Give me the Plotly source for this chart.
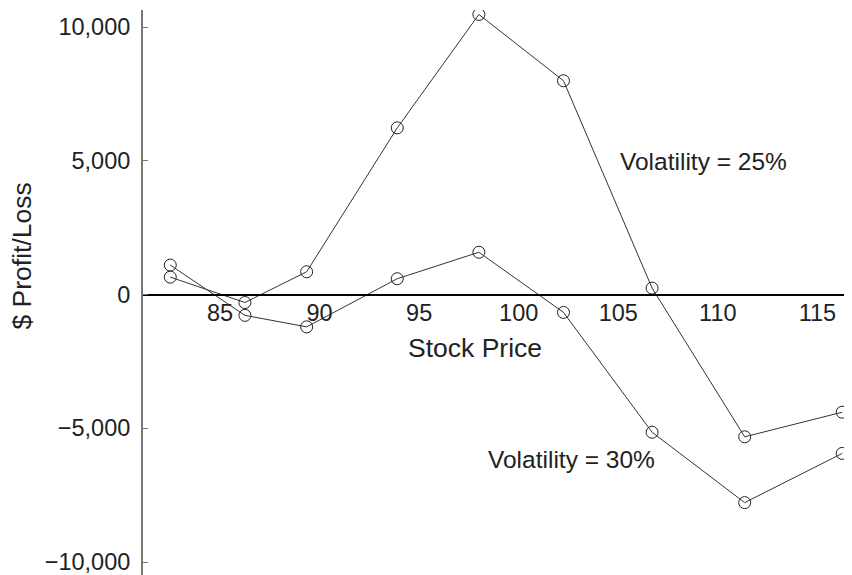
import plotly.graph_objects as go

# Data
stock_price = [82.5, 86.25, 89.35, 93.9, 98.0, 102.25, 106.7, 111.35, 116.25]
pl_vol25 = [650, -300, 850, 6230, 10470, 7990, 240, -5320, -4400]
pl_vol30 = [1100, -780, -1210, 590, 1580, -670, -5150, -7780, -5940]

x_ticks = [85, 90, 95, 100, 105, 110, 115]
y_ticks = [-10000, -5000, 0, 5000, 10000]

FONT = "Liberation Sans, Arial, Helvetica, sans-serif"
INK = "#222222"
LINE = "#333333"

X_RANGE = [81.13, 116.74]
Y_RANGE = [-10486, 10636]
zero_pos = (0 - Y_RANGE[0]) / (Y_RANGE[1] - Y_RANGE[0])

fig = go.Figure()
for yvals in (pl_vol25, pl_vol30):
    fig.add_trace(go.Scatter(
        x=stock_price, y=yvals, mode="lines+markers",
        line=dict(color=LINE, width=1),
        marker=dict(symbol="circle-open", size=12, color=INK, line=dict(width=1, color=INK)),
        showlegend=False, hoverinfo="skip",
    ))

tick_common = dict(range=X_RANGE, tickvals=x_ticks, showgrid=False, zeroline=False,
                   overlaying="x", anchor="free", position=zero_pos,
                   showline=False, showticklabels=False,
                   ticklen=5, tickwidth=1, tickcolor="black")

# page body has an 8px default margin; size the figure so the plot area lands where the reference has it
fig.update_layout(
    width=844, height=567,
    margin=dict(l=135, r=0, t=2, b=0),
    paper_bgcolor="white", plot_bgcolor="white",
    font=dict(family=FONT, color=INK),
    xaxis=dict(
        range=X_RANGE, tickvals=x_ticks, showgrid=False, zeroline=False,
        anchor="free", position=zero_pos,
        showline=True, linecolor="black", linewidth=2,
        ticks="", ticklabelstandoff=-3,
        tickfont=dict(size=23.5, family=FONT, color=INK),
    ),
    xaxis2=dict(ticks="inside", **tick_common),
    xaxis3=dict(ticks="outside", **tick_common),
    yaxis=dict(
        range=Y_RANGE, tickvals=y_ticks, tickformat=",", showgrid=False, zeroline=False,
        showline=True, linecolor="#777777", linewidth=2,
        ticks="inside", ticklen=5, tickwidth=1, tickcolor="#777777",
        ticklabelstandoff=6, ticklabeloverflow="allow",
        tickfont=dict(size=23.5, family=FONT, color=INK),
    ),
    annotations=[
        dict(text="Stock Price", xref="paper", yref="paper", x=0.4683, y=0.4009,
             xanchor="center", yanchor="middle", showarrow=False,
             font=dict(size=26.5, family=FONT, color=INK)),
        dict(text="$ Profit/Loss", xref="paper", yref="paper", x=-0.172, y=0.5637,
             xanchor="center", yanchor="middle", showarrow=False, textangle=-90,
             font=dict(size=26.5, family=FONT, color=INK)),
        dict(text="Volatility = 25%", xref="x", yref="y", x=109.28, y=4964,
             xanchor="center", yanchor="middle", showarrow=False,
             font=dict(size=24.5, family=FONT, color=INK)),
        dict(text="Volatility = 30%", xref="x", yref="y", x=102.63, y=-6176,
             xanchor="center", yanchor="middle", showarrow=False,
             font=dict(size=24.5, family=FONT, color=INK)),
    ],
)

fig.write_html("out.html")
